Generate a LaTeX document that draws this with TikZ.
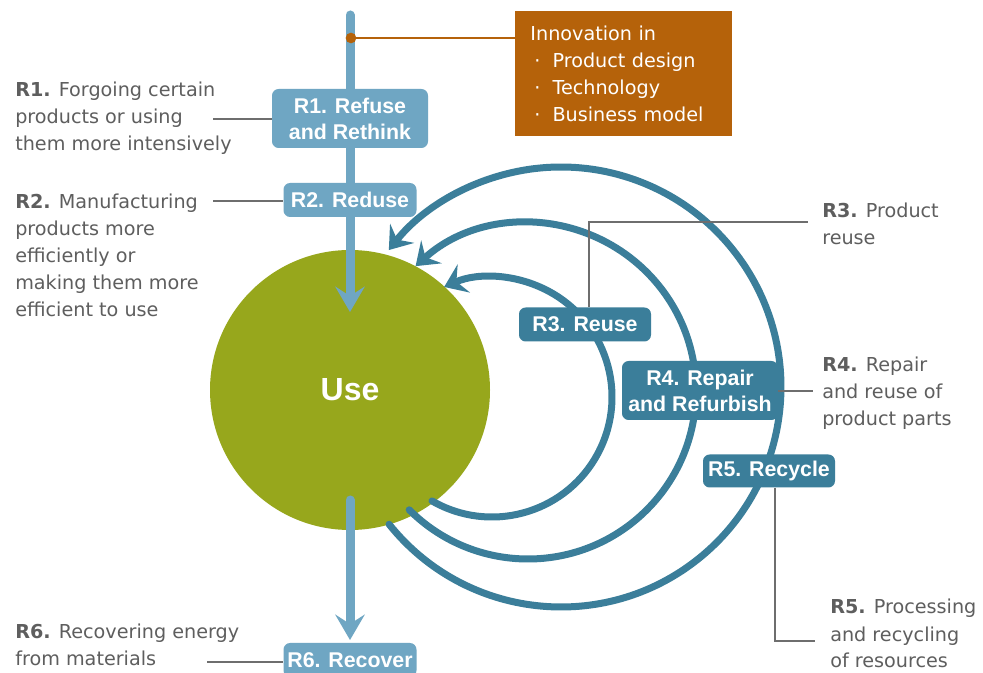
\documentclass[tikz,border=0pt]{standalone}
\usepackage{fontspec}
\setmainfont{DejaVu Sans}
\newfontfamily\boxfont{Liberation Sans}
\usetikzlibrary{arrows.meta}
\definecolor{flowblue}{HTML}{6FA6C3}
\definecolor{loopblue}{HTML}{3B7E9A}
\definecolor{useolive}{HTML}{97A71C}
\definecolor{innovorange}{HTML}{B5620A}
\definecolor{notegray}{HTML}{5E5E5E}
\definecolor{leadgray}{HTML}{6E6E6E}

\begin{document}
\begin{tikzpicture}[x=0.75pt, y=-0.75pt,
rbox/.style = {rounded corners=5pt, text=white, align=center, inner sep=0pt,
  font=\boxfont\bfseries\fontsize{16}{19.5}\selectfont},
rlight/.style = {rbox, fill=flowblue},
rdark/.style = {rbox, fill=loopblue},
note/.style = {text=notegray, align=left, anchor=base west, inner sep=0pt,
  font=\fontsize{14.4}{20.25}\selectfont},
leader/.style = {draw=leadgray, line width=1.1pt},
flow/.style = {draw=flowblue, line width=6.75pt, line cap=round,
  -{Stealth[length=19pt, width=22pt, inset=7pt]}},
rloop/.style = {draw=loopblue, line width=5.25pt, line cap=round,
  -{Stealth[length=16pt, width=23pt, inset=6pt]}}
]
\path[use as bounding box, fill=white] (0,0) rectangle (983,673);

\node[circle, fill=useolive, minimum size=210pt, inner sep=0pt, text=white,
  font=\boxfont\bfseries\fontsize{24}{28}\selectfont] (use) at (350,390) {Use};

% straight flow through the circle
\coordinate (flowtop) at (350,15);
\coordinate (flowin) at (350,312);
\coordinate (flowout) at (350,500);
\coordinate (flowend) at (350,640);
\draw[flow] (flowtop) -- (flowin);
\draw[flow] (flowout) -- (flowend);

% loops back into use
\coordinate (c5) at (561,387);
\coordinate (c4) at (528,391);
\coordinate (c3) at (492,397);
\draw[rloop] (c5) ++(141.4:220) arc[start angle=141.4, end angle=-141.5, radius=220];
\draw[rloop] (c4) ++(135:168) arc[start angle=135, end angle=-132, radius=168];
\draw[rloop] (c3) ++(120:120) arc[start angle=120, end angle=-113.5, radius=120];

% leaders
\coordinate (r1lead) at (213,119);
\coordinate (r2lead) at (213,201);
\coordinate (r6lead) at (207,662);
\coordinate (r3bend) at (589,222);
\coordinate (r3lead) at (808,222);
\coordinate (r4lead) at (813,391);
\coordinate (r5bend) at (775,641);
\coordinate (r5lead) at (815,641);

\node[rlight, minimum width=117pt, minimum height=44.25pt] (r1) at (350,118.5) {R1. Refuse\\and Rethink};
\node[rlight, minimum width=99.75pt, minimum height=25.5pt] (r2) at (350,200) {R2. Reduse};
\node[rlight, minimum width=99.75pt, minimum height=25.5pt] (r6) at (350,660) {R6. Recover};
\node[rdark, minimum width=99pt, minimum height=25.5pt] (r3) at (585,324.5) {R3. Reuse};
\node[rdark, minimum width=117pt, minimum height=44.25pt] (r4) at (700,390.5) {R4. Repair\\and Refurbish};
\node[rdark, minimum width=99pt, minimum height=24.75pt] (r5) at (769,471) {R5. Recycle};

\draw[leader] (r1lead) -- (r1lead -| r1.west);
\draw[leader] (r2lead) -- (r2lead -| r2.west);
\draw[leader] (r6lead) -- (r6lead -| r6.west);
\draw[leader] (r3.north -| r3bend) -- (r3bend) -- (r3lead);
\draw[leader] (r4.east |- r4lead) -- (r4lead);
\draw[leader] (r5.south -| r5bend) -- (r5bend) -- (r5lead);

% notes, placed by the baseline of their last line
\node[note] (r1note) at (15,151) {\textbf{R1.} Forgoing certain\\products or using\\them more intensively};
\node[note] (r2note) at (15,317) {\textbf{R2.} Manufacturing\\products more\\efficiently or\\making them more\\efficient to use};
\node[note] (r6note) at (15,666) {\textbf{R6.} Recovering energy\\from materials};
\node[note] (r3note) at (822,245) {\textbf{R3.} Product\\reuse};
\node[note] (r4note) at (822,426) {\textbf{R4.} Repair\\and reuse of\\product parts};
\node[note] (r5note) at (830,668) {\textbf{R5.} Processing\\and recycling\\of resources};

% innovation
\coordinate (innovdot) at (351,38);
\node[fill=innovorange, anchor=north west, minimum width=162.75pt, minimum height=93.75pt,
  text width=140pt, inner xsep=11.25pt, inner ysep=0pt, align=left, text=white,
  font=\fontsize{14.4}{20.25}\selectfont] (innov) at (515,11)
  {Innovation in\\\hspace*{3pt}·\hspace{9pt}Product design\\\hspace*{3pt}·\hspace{9pt}Technology\\\hspace*{3pt}·\hspace{9pt}Business model};
\draw[innovorange, line width=1.5pt] (innovdot) -- (innovdot -| innov.west);
\fill[innovorange] (innovdot) circle (4pt);
\end{tikzpicture}
\end{document}
